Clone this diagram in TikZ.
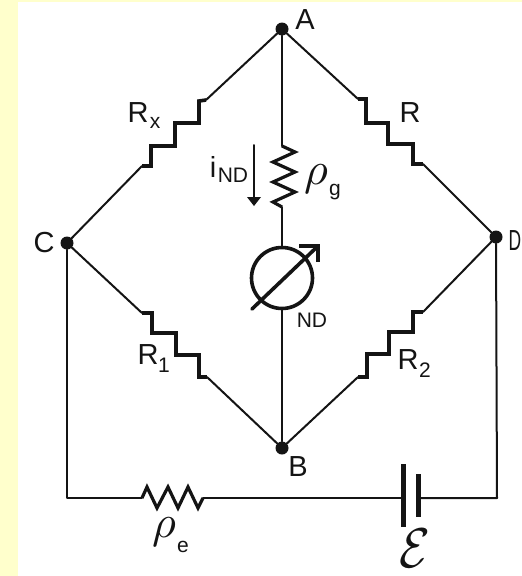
\documentclass[tikz,border=0pt]{standalone}
\usepackage{fontspec}
\setmainfont{Liberation Sans}
\tikzset{
 x=1pt,y=-1pt,
 wire/.style={line width=2pt,draw=ink,line cap=round,line join=round},
 res/.style={line width=3.6pt,draw=ink,line join=miter},
 zig/.style={line width=3.2pt,draw=ink,line join=miter},
 junction/.style={circle,fill=ink,inner sep=0pt,minimum size=13pt},
 lab/.style={inner sep=0pt,text=ink,font=\fontsize{29}{29}\selectfont},
 sublab/.style={inner sep=0pt,text=ink,font=\fontsize{21}{21}\selectfont},
}
\definecolor{ink}{HTML}{141414}
\definecolor{paper}{HTML}{FFFFCC}
\begin{document}
\begin{tikzpicture}
\useasboundingbox (0,0) rectangle (522,576);
\fill[paper] (0,0) rectangle (522,576);
\fill[white] (18,2) rectangle (522,576);
% junctions
\node[junction] (A) at (282,29) {};
\node[junction] (B) at (282,448) {};
\node[junction] (C) at (67,243) {};
\node[junction] (D) at (496,237) {};
% resistor ends
\coordinate (rx1) at (142,166); \coordinate (rx2) at (206,100);
\coordinate (r1) at (358,99);   \coordinate (r2) at (423,164);
\coordinate (ra1) at (142,313); \coordinate (ra2) at (207,377);
\coordinate (rb1) at (358,377); \coordinate (rb2) at (423,312);
\coordinate (g1) at (282,146);  \coordinate (g2) at (282,207);
\coordinate (e1) at (142,498);  \coordinate (e2) at (203,498);
\coordinate (bl) at (67,498);   \coordinate (br) at (497,498);
\coordinate (b1) at (403,498);  \coordinate (b2) at (418,498);
% bridge arms
\draw[wire] (C) -- (rx1); \draw[wire] (rx2) -- (A);
\draw[wire] (A) -- (r1);  \draw[wire] (r2) -- (D);
\draw[wire] (C) -- (ra1); \draw[wire] (ra2) -- (B);
\draw[wire] (B) -- (rb1); \draw[wire] (rb2) -- (D);
\draw[res] (rx1) -- (151,166) -- (151,146) -- (175,146) -- (175,123) -- (199,123) -- (199,101) -- (rx2);
\draw[res] (r1) -- (366,99) -- (366,123) -- (388,123) -- (388,144) -- (413,144) -- (413,164) -- (r2);
\draw[res] (ra1) -- (152,313) -- (152,333) -- (176,333) -- (176,355) -- (199,355) -- (199,377) -- (ra2);
\draw[res] (rb1) -- (367,377) -- (367,354) -- (389,354) -- (389,332) -- (413,332) -- (413,312) -- (rb2);
% central branch
\node[circle,draw=ink,line width=3.6pt,minimum size=61pt,inner sep=0pt] (M) at (282,278) {};
\draw[wire] (A) -- (g1);
\draw[zig] (g1) -- (295,152) -- (273,162) -- (295,172) -- (273,182) -- (295,192) -- (273,202) -- (g2);
\draw[wire] (g2) -- (M.north);
\draw[wire] (M.south) -- (B);
\coordinate (m1) at (252,309); \coordinate (m2) at (318,246);
\draw[line width=3.6pt,draw=ink,line cap=round] (m1) -- (m2);
\draw[line width=3.4pt,draw=ink,line join=miter] (299,246) -- (m2) -- (318,262);
% current arrow
\coordinate (i1) at (254,145); \coordinate (i2) at (254,198);
\draw[wire] (i1) -- (i2);
\fill[ink] (247,197) -- (261,197) -- (254,206) -- cycle;
% outer loop
\draw[wire] (C) -- (bl) -- (e1);
\draw[zig] (e1) -- (147,487) -- (157,508) -- (168,487) -- (178,508) -- (188,487) -- (198,508) -- (e2);
\draw[wire] (e2) -- (b1);
\draw[wire] (b2) -- (br) -- (D);
\draw[line width=5pt,draw=ink] (403,464) -- (403,527);
\draw[line width=5pt,draw=ink] (418,474) -- (418,517);
% labels
\node[lab] (lA) at (305,20) {A};
\node[lab] (lB) at (298,467) {B};
\node[lab] (lC) at (44,243) {C};
\node[lab] (lD) at (515,241) {\scalebox{0.6}[1]{D}};
\node[lab] (lRx) at (138,113) {R};
\node[sublab] (lRxs) at (155,123) {x};
\node[lab] (lR) at (410,113) {R};
\node[lab] (lR1) at (148,355) {R};
\node[sublab] (lR1s) at (164,365) {1};
\node[lab] (lR2) at (408,360) {R};
\node[sublab] (lR2s) at (425,370) {2};
\node[lab] (li) at (213,167) {i};
\node[sublab] (lind) at (233,175) {ND};
\node[sublab] (lnd) at (312,320) {ND};
\node[inner sep=0pt,text=ink] (lrg) at (316,179) {\scalebox{4.6}{$\rho$}};
\node[sublab] (lrgs) at (335,192) {g};
\node[inner sep=0pt,text=ink] (lre) at (164,532) {\scalebox{4.6}{$\rho$}};
\node[sublab] (lres) at (183,547) {e};
\node[inner sep=0pt,text=ink] (leps) at (415,548) {\scalebox{5}[5.6]{$\mathcal{E}$}};
\end{tikzpicture}
\end{document}
